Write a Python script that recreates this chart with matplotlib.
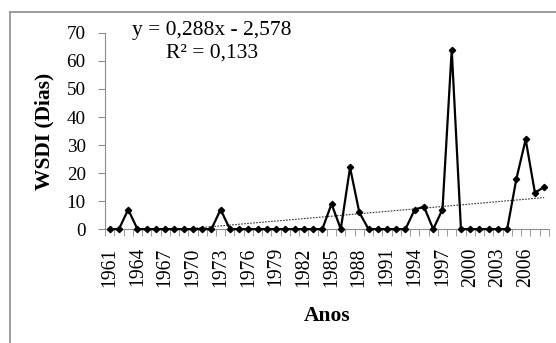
import matplotlib
matplotlib.use("Agg")
import matplotlib.pyplot as plt
import numpy as np
from matplotlib.lines import Line2D

# ── data ──────────────────────────────────────────────────────────────────────
years = list(range(1961, 2009))
wsdi = [0, 0, 7, 0, 0, 0, 0, 0, 0, 0,
        0, 0, 7, 0, 0, 0, 0, 0, 0, 0,
        0, 0, 0, 0, 9, 0, 22, 6, 0, 0,
        0, 0, 0, 7, 8, 0, 7, 64, 0, 0,
        0, 0, 0, 0, 18, 32, 13, 15]
label_years = list(range(1961, 2009, 3))
trend_slope, trend_intercept = 0.288, -2.578
eq_text = "y = 0,288x - 2,578"
r2_text = "R² = 0,133"

plt.rcParams["font.family"] = ["Liberation Serif", "DejaVu Serif"]
GRAY = "#8c8c8c"

fig = plt.figure(figsize=(5.56, 3.43), dpi=100)
ax = fig.add_axes([0.189, 0.332, 0.798, 0.572])

idx = np.arange(1, len(years) + 1)
ax.plot(years, wsdi, color="black", lw=1.6, marker="D", ms=3.2,
        clip_on=False, zorder=3)
ax.plot(years, trend_slope * idx + trend_intercept, color="#333333",
        lw=0.8, ls=(0, (1.5, 1.2)), zorder=2)

ax.set_xlim(years[0] - 0.5, years[-1] + 0.5)
ax.set_ylim(0, 70)
ax.set_yticks(range(0, 71, 10))
ax.set_xticks(label_years)
ax.set_xticklabels([str(y) for y in label_years], rotation=90)
ax.set_xticks(np.arange(years[0] - 0.5, years[-1] + 1), minor=True)

for s in ("top", "right"):
    ax.spines[s].set_visible(False)
for s in ("left", "bottom"):
    ax.spines[s].set_color(GRAY)
ax.tick_params(axis="x", which="major", length=0, pad=13, labelsize=14.2)
ax.tick_params(axis="x", which="minor", length=5, color=GRAY, direction="out")
ax.tick_params(axis="y", length=5, color=GRAY, pad=9, labelsize=13.8)

ax.set_ylabel("WSDI (Dias)", fontsize=15.5, fontweight="bold", labelpad=9)
ax.set_xlabel("Anos", fontsize=15.5, fontweight="bold", labelpad=14)

fig.text(0.381, 0.912, eq_text, ha="center", va="center", fontsize=15.5)
fig.text(0.381, 0.846, r2_text, ha="center", va="center", fontsize=15.5)

# chart-area frame (cropped at right and bottom)
fig.add_artist(Line2D([0.018, 1.0], [0.965, 0.965], color=GRAY, lw=1.2,
                      transform=fig.transFigure))
fig.add_artist(Line2D([0.018, 0.018], [0.0, 0.965], color=GRAY, lw=1.2,
                      transform=fig.transFigure))

fig.savefig("out.png", dpi=100, facecolor="white")
